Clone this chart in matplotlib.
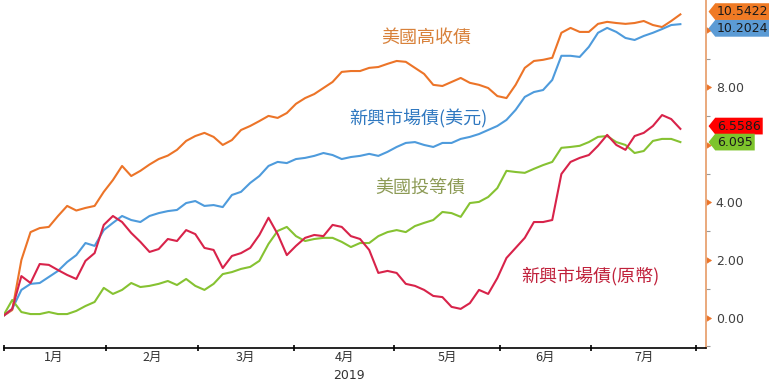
# 2019年債券報酬走勢圖
import numpy as np
import pandas as pd
import matplotlib
matplotlib.use('Agg')
import matplotlib.pyplot as plt
from matplotlib.path import Path
from matplotlib.markers import CARETRIGHTBASE

plt.rcParams['font.family'] = ['Noto Sans CJK TC', 'DejaVu Sans']

# 交易日 (2018-12-31 起)，每兩個交易日讀一點
bdays = pd.bdate_range('2018-12-31', '2019-08-01')
idx = np.arange(1, 150, 2)

us_hy = [0.05, 0.26, 2.00, 2.97, 3.11, 3.15, 3.53, 3.88, 3.72, 3.81,
         3.88, 4.37, 4.78, 5.27, 4.92, 5.10, 5.32, 5.51, 5.63, 5.83,
         6.14, 6.31, 6.42, 6.28, 6.00, 6.17, 6.52, 6.66, 6.83, 7.01,
         6.94, 7.11, 7.43, 7.63, 7.77, 7.98, 8.19, 8.54, 8.57, 8.57,
         8.68, 8.71, 8.82, 8.92, 8.89, 8.68, 8.47, 8.09, 8.05, 8.19,
         8.33, 8.16, 8.09, 7.98, 7.70, 7.63, 8.09, 8.68, 8.92, 8.96,
         9.03, 9.90, 10.07, 9.93, 9.93, 10.21, 10.28, 10.24, 10.21, 10.24,
         10.31, 10.17, 10.10, 10.31, 10.54]

em_usd = [0.05, 0.30, 0.96, 1.17, 1.20, 1.41, 1.62, 1.93, 2.17, 2.59,
          2.49, 3.04, 3.29, 3.53, 3.39, 3.32, 3.53, 3.63, 3.70, 3.74,
          3.98, 4.05, 3.88, 3.91, 3.84, 4.26, 4.37, 4.68, 4.92, 5.27,
          5.41, 5.37, 5.51, 5.55, 5.62, 5.72, 5.65, 5.51, 5.58, 5.62,
          5.69, 5.62, 5.76, 5.93, 6.07, 6.10, 6.00, 5.93, 6.07, 6.07,
          6.21, 6.28, 6.38, 6.52, 6.66, 6.87, 7.22, 7.67, 7.84, 7.91,
          8.26, 9.10, 9.10, 9.06, 9.41, 9.90, 10.07, 9.93, 9.72, 9.65,
          9.79, 9.90, 10.03, 10.17, 10.20]

em_local = [0.05, 0.30, 1.44, 1.20, 1.86, 1.83, 1.65, 1.48, 1.34, 1.97,
            2.24, 3.22, 3.53, 3.32, 2.94, 2.63, 2.28, 2.38, 2.73, 2.66,
            3.04, 2.90, 2.42, 2.35, 1.72, 2.14, 2.24, 2.42, 2.87, 3.47,
            2.90, 2.17, 2.49, 2.77, 2.87, 2.83, 3.22, 3.15, 2.83, 2.73,
            2.35, 1.55, 1.62, 1.55, 1.17, 1.10, 0.96, 0.75, 0.71, 0.37,
            0.30, 0.50, 0.96, 0.82, 1.37, 2.07, 2.42, 2.77, 3.32, 3.32,
            3.39, 4.99, 5.41, 5.55, 5.65, 5.97, 6.35, 6.00, 5.83, 6.31,
            6.42, 6.66, 7.04, 6.90, 6.56]

us_ig = [0.05, 0.61, 0.19, 0.12, 0.12, 0.19, 0.12, 0.12, 0.23, 0.40,
         0.54, 1.03, 0.82, 0.96, 1.20, 1.06, 1.10, 1.17, 1.27, 1.13,
         1.34, 1.10, 0.96, 1.17, 1.51, 1.58, 1.69, 1.76, 1.97, 2.56,
         3.01, 3.15, 2.83, 2.66, 2.73, 2.77, 2.77, 2.63, 2.45, 2.59,
         2.59, 2.83, 2.97, 3.04, 2.97, 3.18, 3.29, 3.39, 3.67, 3.63,
         3.50, 3.98, 4.02, 4.19, 4.50, 5.10, 5.06, 5.03, 5.17, 5.30,
         5.41, 5.90, 5.93, 5.97, 6.10, 6.28, 6.31, 6.10, 6.00, 5.72,
         5.79, 6.14, 6.21, 6.21, 6.10]

month_names = ['1月', '2月', '3月', '4月', '5月', '6月', '7月']
end_labels = ['10.5422', '10.2024', '6.5586', '6.095']
y_ticks = [0, 2, 4, 6, 8, 10]
y_ticklabels = ['0.00', '2.00', '4.00', '', '8.00', '']

c_hy = '#EC7428'
c_usd = '#4E9BDC'
c_loc = '#D8234A'
c_ig = '#86C232'


def tag_box(x0, y0, width, height, mutation_size):
    # 左邊帶尖角的標籤框
    pad = 0.15 * mutation_size
    x0, y0 = x0 - pad, y0 - pad
    x1, y1 = x0 + width + 2 * pad, y0 + height + 2 * pad
    tip = 0.4 * (y1 - y0)
    ym = (y0 + y1) / 2
    return Path([(x0 - tip, ym), (x0, y1), (x1, y1), (x1, y0), (x0, y0), (x0 - tip, ym)],
                closed=True)


fig = plt.figure(figsize=(7.69, 3.83), dpi=100)
ax = fig.add_axes([4 / 769, 35 / 383, 702 / 769, 348 / 383])

lw = 1.5
ax.plot(idx, us_hy, color=c_hy, lw=lw)
ax.plot(idx, em_usd, color=c_usd, lw=lw)
ax.plot(idx, us_ig, color=c_ig, lw=lw)
ax.plot(idx, em_local, color=c_loc, lw=lw)

ax.set_xlim(1.2, 154.6)
ax.set_ylim(-1.06, 11.04)

# 月份分隔
months = bdays.month
starts = [i for i in range(1, len(bdays)) if months[i] != months[i - 1]]
bounds = np.array(starts) - 0.5
ax.set_xticks(np.r_[1.2, bounds[1:]])
ax.set_xticklabels([])
centers = (bounds[:-1] + bounds[1:]) / 2
ax.set_xticks(centers, minor=True)
ax.set_xticklabels(month_names, minor=True, fontsize=9, color='#333333')
ax.tick_params(axis='x', which='major', direction='inout', length=5, width=1.2, color='black')
ax.tick_params(axis='x', which='minor', length=0, pad=2)
ax.text((bounds[0] + bounds[-1]) / 2, -0.06, '2019', transform=ax.get_xaxis_transform(),
        ha='center', va='top', fontsize=9, color='#333333', family='DejaVu Sans')

# 右側座標軸
ax.yaxis.tick_right()
ax.set_yticks(y_ticks)
ax.set_yticklabels(y_ticklabels, fontsize=9, color='#404040', family='DejaVu Sans')
ax.set_yticks(np.arange(-1, 11, 2), minor=True)
ax.tick_params(axis='y', which='major', length=5, width=0.5, color=c_hy, pad=2)
ax.tick_params(axis='y', which='minor', length=3, width=0.8, color='#9a9a9a')
for t in ax.yaxis.get_major_ticks():
    t.tick2line.set_marker(CARETRIGHTBASE)
    t.tick2line.set_markerfacecolor(c_hy)

for s in ['left', 'top']:
    ax.spines[s].set_visible(False)
ax.spines['right'].set_color('#E8A272')
ax.spines['right'].set_linewidth(1.3)
ax.spines['bottom'].set_color('black')
ax.spines['bottom'].set_linewidth(1.2)

# 線上的文字
ax.text(93.4, 9.72, '美國高收債', color='#D8813A', fontsize=13, ha='center', va='center')
ax.text(91.7, 6.90, '新興市場債(美元)', color='#2F78C0', fontsize=13, ha='center', va='center')
ax.text(92.1, 4.50, '美國投等債', color='#8C9A55', fontsize=13, ha='center', va='center')
ax.text(129.3, 1.44, '新興市場債(原幣)', color='#C0213B', fontsize=13, ha='center', va='center')

# 右側數值標籤
ends = [us_hy[-1], em_usd[-1], em_local[-1], us_ig[-1]]
box_colors = ['#F07A24', '#5B9BD5', '#FF0000', '#7DC42C']
nudges = [2, -3, 2, 0]
for lab, v, bc, dy in zip(end_labels, ends, box_colors, nudges):
    ax.annotate(lab, xy=(1.0, v), xycoords=('axes fraction', 'data'),
                xytext=(8, dy), textcoords='offset points', ha='left', va='center',
                fontsize=9, color='#1a1a1a', family='DejaVu Sans', annotation_clip=False,
                bbox=dict(boxstyle=tag_box, fc=bc, ec='none'))

fig.savefig('out.png', dpi=100)
